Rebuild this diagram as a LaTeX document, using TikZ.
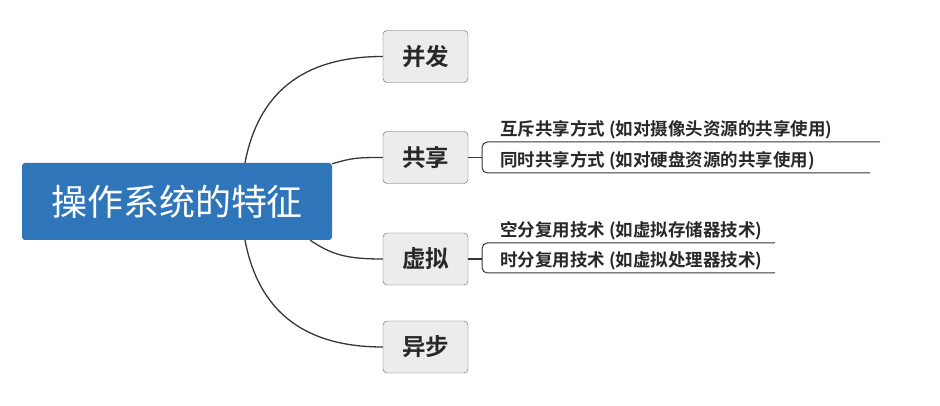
\documentclass[tikz,border=0pt]{standalone}
\usepackage{fontspec}
\newfontfamily\cjk{Noto Sans CJK SC}
\newfontfamily\cjkb{Noto Sans CJK SC Bold}
\usetikzlibrary{positioning,calc}
\definecolor{rootblue}{RGB}{46,117,186}
\definecolor{topicfill}{RGB}{236,236,236}
\definecolor{edge}{RGB}{55,55,55}
\definecolor{ink}{RGB}{40,40,40}

\tikzset{
  rootbox/.style={fill=rootblue,rounded corners=3pt,minimum width=310pt,minimum height=77pt,
    text=white,font=\cjk\fontsize{36}{40}\selectfont},
  topic/.style={draw=edge!80,fill=topicfill,rounded corners=4pt,minimum width=85pt,minimum height=52pt,
    text=ink,font=\cjkb\fontsize{23.5}{26}\selectfont},
  leaf/.style={anchor=south west,inner xsep=0pt,inner ysep=3pt,text=ink,
    font=\cjkb\fontsize{17.5}{20}\selectfont},
  branch/.style={draw=edge,line width=1.3pt}
}

\begin{document}
\begin{tikzpicture}[x=1pt,y=-1pt]
 \useasboundingbox (0,0) rectangle (940,406);
 \node[rootbox] (root) at (177,201.5) {操作系统的特征};
 \foreach \n/\y/\t in {b1/56.5/并发,b2/157.5/共享,b3/259/虚拟,b4/347/异步}
   \node[topic] (\n) at (425.5,\y) {\t};

 % root to topics
 \draw[branch] ([xshift=68pt]root.north) .. controls +(13,-68) and +(-82,0) .. (b1.west);
 \draw[branch] ([yshift=-1pt]root.north east) .. controls +(20,-6) and +(-25,0) .. (b2.west);
 \draw[branch] ([xshift=-22pt]root.south east) .. controls +(22,15) and +(-35,0) .. (b3.west);
 \draw[branch] ([xshift=68pt]root.south) .. controls +(13,68) and +(-82,0) .. (b4.west);

 % topics to leaves
 \draw[branch] (b2.east) -- ++(14,0) coordinate (f2);
 \draw[branch] (b3.east) -- ++(14,0) coordinate (f3);
 \foreach \n/\f/\y/\len/\t in {
   l1/f2/142/380/{互斥共享方式 (如对摄像头资源的共享使用)},
   l2/f2/173/370/{同时共享方式 (如对硬盘资源的共享使用)},
   l3/f3/243/275/{空分复用技术 (如虚拟存储器技术)},
   l4/f3/273/275/{时分复用技术 (如虚拟处理器技术)}} {
   \node[leaf] (\n) at (500,\y) {\t};
   \draw[branch,line width=1pt,rounded corners=5pt] (\f) |- (\n.south west) -- ++(\len,0);
 }
\end{tikzpicture}
\end{document}
